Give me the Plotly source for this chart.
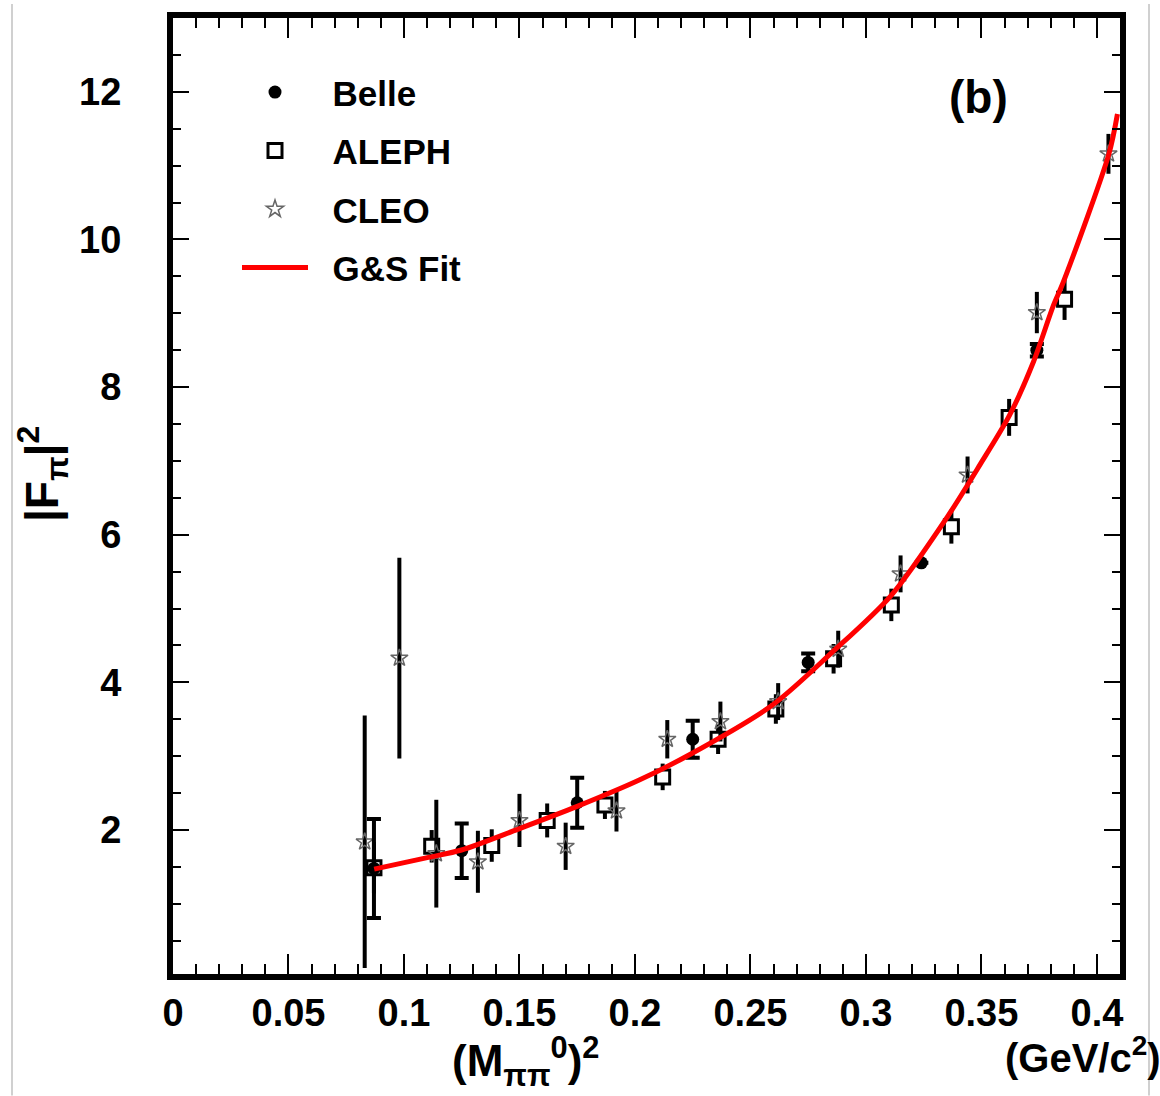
import plotly.graph_objects as go

# ---------------- data ----------------
belle_x = [0.087, 0.125, 0.175, 0.225, 0.275, 0.324, 0.374]
belle_y = [1.48, 1.72, 2.37, 3.23, 4.27, 5.62, 8.50]
belle_e = [0.67, 0.37, 0.34, 0.25, 0.12, 0.0, 0.085]

aleph_x = [0.087, 0.112, 0.138, 0.162, 0.187, 0.212, 0.236, 0.261, 0.286, 0.311, 0.337, 0.362, 0.386]
aleph_y = [1.49, 1.78, 1.79, 2.13, 2.34, 2.72, 3.23, 3.64, 4.32, 5.05, 6.11, 7.59, 9.19]
aleph_e = [0.35, 0.22, 0.22, 0.23, 0.19, 0.18, 0.20, 0.20, 0.20, 0.22, 0.23, 0.25, 0.28]

cleo_x = [0.083, 0.098, 0.114, 0.132, 0.150, 0.170, 0.192, 0.214, 0.237, 0.262, 0.288, 0.315, 0.344, 0.374, 0.405]
cleo_y = [1.84, 4.33, 1.68, 1.57, 2.13, 1.78, 2.26, 3.23, 3.47, 3.74, 4.45, 5.47, 6.81, 9.01, 11.16]
cleo_e = [1.71, 1.36, 0.73, 0.42, 0.36, 0.32, 0.28, 0.26, 0.27, 0.25, 0.25, 0.25, 0.25, 0.28, 0.27]

fit_x = [0.0871, 0.1106, 0.1249, 0.1492, 0.175, 0.2021, 0.2236, 0.2594, 0.2851, 0.3107,
         0.3352, 0.3494, 0.3622, 0.3725, 0.3811, 0.3853, 0.4052, 0.4089]
fit_y = [1.47, 1.63, 1.73, 2.01, 2.32, 2.68, 3.02, 3.69, 4.40, 5.17,
         6.24, 6.95, 7.62, 8.34, 9.10, 9.41, 11.16, 11.70]

x_range = [0, 0.41]
y_range = [0.05, 13.0]

FONT = "Liberation Sans, Arial, Helvetica, sans-serif"
SP = "&nbsp;&nbsp;"

fig = go.Figure()

fig.add_trace(go.Scatter(
    x=aleph_x, y=aleph_y, mode="markers", name=SP + "ALEPH", legendgroup="b", legendrank=2,
    marker=dict(symbol="square", size=14, color="white", line=dict(color="black", width=3)),
    error_y=dict(type="data", array=aleph_e, color="black", thickness=4, width=0),
))
fig.add_trace(go.Scatter(
    x=cleo_x, y=cleo_y, mode="markers", name=SP + "CLEO", legendgroup="c", legendrank=3,
    marker=dict(symbol="star-open", size=13, color="#666666", line=dict(color="#666666", width=1.5)),
    error_y=dict(type="data", array=cleo_e, color="black", thickness=4, width=0),
))
fig.add_trace(go.Scatter(
    x=belle_x, y=belle_y, mode="markers", name=SP + "Belle", legendgroup="a", legendrank=1,
    marker=dict(symbol="circle", size=13, color="black"),
    error_y=dict(type="data", array=belle_e, color="black", thickness=4, width=7),
))
fig.add_trace(go.Scatter(
    x=fit_x, y=fit_y, mode="lines", name=SP + "G&amp;S Fit", legendgroup="d", legendrank=4,
    line=dict(color="red", width=5, shape="spline", smoothing=0.8),
))

axis_common = dict(
    showgrid=False, zeroline=False, showline=True, linecolor="black", linewidth=6,
    mirror="ticks", ticks="inside", tickcolor="black", tickwidth=2,
    tickfont=dict(family=FONT, size=38, color="black", weight="bold"),
)

fig.update_xaxes(range=x_range, dtick=0.05, tick0=0, ticklen=20,
                 minor=dict(dtick=0.01, ticks="inside", ticklen=10, tickcolor="black", tickwidth=2),
                 **axis_common)
fig.update_yaxes(range=y_range, dtick=2, tick0=0, ticklen=16, ticklabelstandoff=38,
                 minor=dict(dtick=0.5, ticks="inside", ticklen=8, tickcolor="black", tickwidth=2),
                 **axis_common)

L, R, T, B = 173, 40, 14, 122
W, H = 1160, 1096
pw, ph = W - L - R, H - T - B


def px(xp):
    return (xp - L) / pw


def py(yp):
    return (H - B - yp) / ph


def ann(text, x, y, size, angle=0, xanchor="center"):
    return dict(text=text, x=px(x), y=py(y), xref="paper", yref="paper", showarrow=False,
                xanchor=xanchor, yanchor="middle", textangle=angle,
                font=dict(family=FONT, size=size, color="black", weight="bold"))


fig.update_layout(
    width=W, height=H, margin=dict(l=L, r=R, t=T, b=B),
    paper_bgcolor="white", plot_bgcolor="white",
    showlegend=True,
    legend=dict(x=px(237), y=py(59), xanchor="left", yanchor="top",
                bgcolor="rgba(0,0,0,0)", traceorder="grouped", tracegroupgap=10,
                itemwidth=66,
                font=dict(family=FONT, size=35, color="black", weight="bold")),
    annotations=[
        ann("(b)", 978, 93, 46),
        ann("|F<sub>π</sub>|<sup>2</sup>", 42, 472, 46, angle=-90),
        ann("(M<sub>ππ</sub><sup>0</sup>)<sup>2</sup>", 525, 1062, 44),
        ann("(GeV/c<sup>2</sup>)", 1163, 1055, 40, xanchor="right"),
    ],
    shapes=[
        dict(type="line", xref="paper", yref="paper", x0=px(12), x1=px(12), y0=py(0), y1=py(H),
             line=dict(color="#d0d0d0", width=2)),
        dict(type="line", xref="paper", yref="paper", x0=px(1149), x1=px(1149), y0=py(0), y1=py(H),
             line=dict(color="#d0d0d0", width=2)),
    ],
)

fig.write_html("out.html")
